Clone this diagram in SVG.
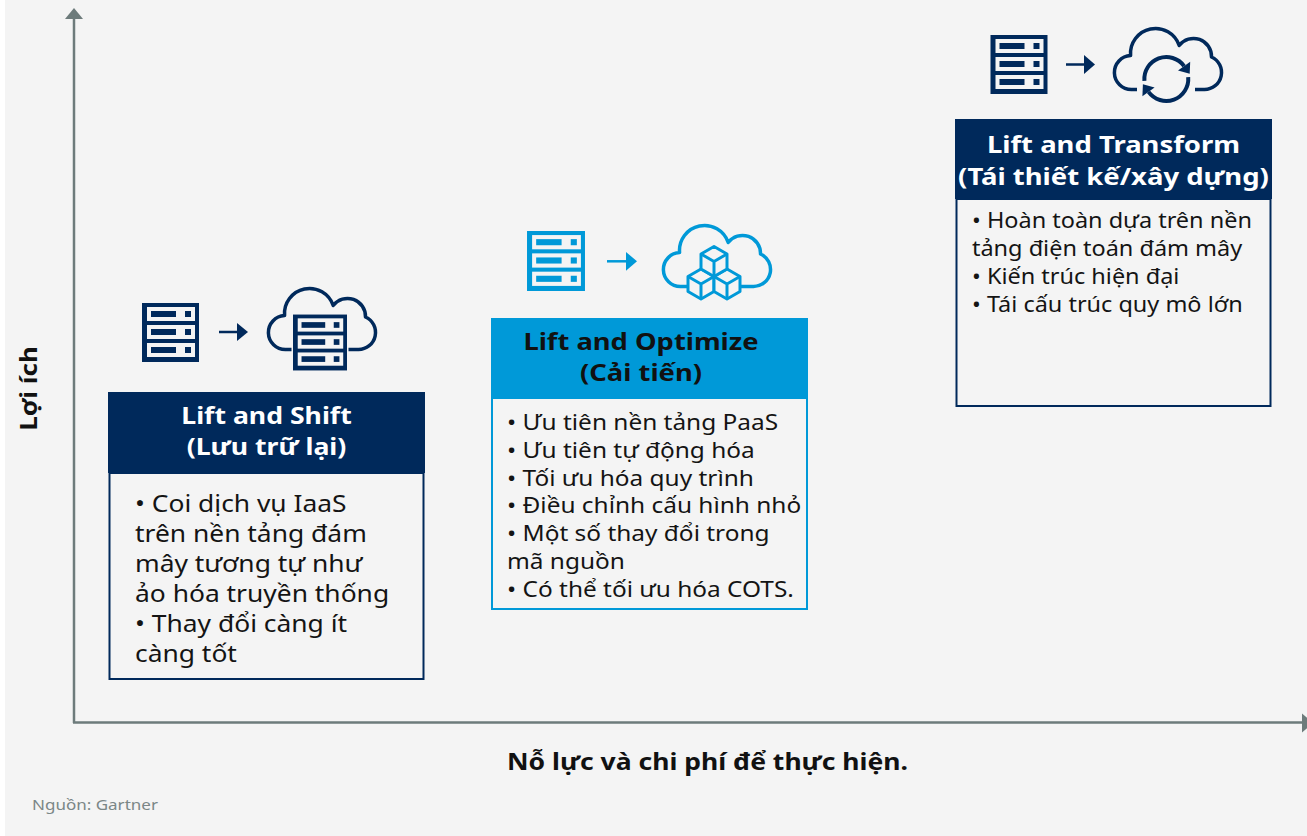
<svg xmlns="http://www.w3.org/2000/svg" xmlns:xlink="http://www.w3.org/1999/xlink" width="1307" height="836" viewBox="0 0 1307 836">
<style>
  text { font-family: "Noto Sans", "Open Sans", "DejaVu Sans", sans-serif; }
  .title { font-size: 24px; font-weight: 700; text-anchor: middle; }
  .b1 { font-size: 24px; fill: #141414; }
  .b2 { font-size: 22px; fill: #141414; }
  .axis { stroke: #6d7b7b; stroke-width: 2.5; fill: none; }
  .axhead { fill: #6d7b7b; }
  .cloud { fill: none; stroke-width: 3.5; stroke-linejoin: round; }
  .navy { color: #00295b; }
  .cyan { color: #0099d8; }
  .lbl { font-size: 24px; font-weight: 700; fill: #111; }
</style>
<defs>
  <symbol id="srv" viewBox="0 0 57 59" overflow="visible">
    <rect x="0" y="0" width="57" height="59" fill="currentColor"/>
    <rect x="5" y="4" width="48" height="14" fill="#f4f4f4"/>
    <rect x="5" y="22" width="48" height="14" fill="#f4f4f4"/>
    <rect x="5" y="40" width="48" height="14" fill="#f4f4f4"/>
    <rect x="9" y="8" width="25" height="6" fill="currentColor"/>
    <rect x="43" y="8" width="6" height="6" fill="currentColor"/>
    <rect x="9" y="26" width="25" height="6" fill="currentColor"/>
    <rect x="43" y="26" width="6" height="6" fill="currentColor"/>
    <rect x="9" y="44" width="25" height="6" fill="currentColor"/>
    <rect x="43" y="44" width="6" height="6" fill="currentColor"/>
  </symbol>
  <path id="cloudShape" d="M 20 63 A 17 17 0 0 1 19.08 29.02 A 25 25 0 0 1 67.7 19 A 18 18 0 0 1 100 30.5 A 17 17 0 0 1 93 63 Z"/>
</defs>

<rect x="0" y="0" width="1307" height="836" fill="#f4f4f4"/>
<rect x="0" y="0" width="5" height="836" fill="#ffffff"/>

<g id="connectors">
  <line class="axis" x1="74" y1="18" x2="74" y2="723"/>
  <polygon class="axhead" points="65,19 83,19 74,8"/>
  <line class="axis" x1="73" y1="722.5" x2="1303" y2="722.5"/>
  <polygon class="axhead" points="1302,713.5 1302,732.5 1313,723"/>
</g>

<g id="axis-labels">
  <text class="lbl" transform="translate(37,388.5) rotate(-90) scale(1.08,1)" text-anchor="middle">Lợi ích</text>
  <g transform="matrix(1.105 0 0 1 -74.29 0)">
    <text class="lbl" x="707.5" y="770" text-anchor="middle">Nỗ lực và chi phí để thực hiện.</text>
  </g>
  <g transform="matrix(1.135 0 0 1 -4.32 0)">
    <text x="32" y="810" font-size="15" fill="#7b8787">Nguồn: Gartner</text>
  </g>
</g>

<g id="icon-shift" class="navy">
  <use href="#srv" x="142" y="303" width="57" height="59"/>
  <line x1="219" y1="332" x2="239" y2="332" stroke="currentColor" stroke-width="2.5"/>
  <polygon points="237,323 248,332 237,341" fill="currentColor"/>
  <use href="#cloudShape" class="cloud" stroke="currentColor" transform="translate(265.5,286.5)"/>
  <rect x="291.5" y="312.5" width="57" height="60" fill="#f4f4f4"/>
  <use href="#srv" x="293" y="314" width="54" height="57"/>
</g>

<g id="icon-optimize" class="cyan">
  <use href="#srv" x="527" y="231" width="58" height="60"/>
  <line x1="607" y1="261.3" x2="628" y2="261.3" stroke="currentColor" stroke-width="2.5"/>
  <polygon points="626,252 637,261.3 626,270.7" fill="currentColor"/>
  <use href="#cloudShape" class="cloud" stroke="currentColor" transform="translate(660.5,223.5)"/>
  <g fill="#f4f4f4" stroke="currentColor" stroke-width="3" stroke-linejoin="round">
    <polygon points="701,269 714,276.5 714,291.5 701,299 688,291.5 688,276.5"/>
    <path d="M688,276.5 L701,284 L714,276.5 M701,284 L701,299" fill="none"/>
    <polygon points="727,269 740,276.5 740,291.5 727,299 714,291.5 714,276.5"/>
    <path d="M714,276.5 L727,284 L740,276.5 M727,284 L727,299" fill="none"/>
    <polygon points="714,246.5 727,254 727,269 714,276.5 701,269 701,254"/>
    <path d="M701,254 L714,261.5 L727,254 M714,261.5 L714,276.5" fill="none"/>
  </g>
</g>

<g id="icon-transform" class="navy">
  <use href="#srv" x="990" y="35" width="58" height="59"/>
  <line x1="1066" y1="64.5" x2="1086" y2="64.5" stroke="currentColor" stroke-width="2.5"/>
  <polygon points="1084,55 1095,64.5 1084,74" fill="currentColor"/>
  <use href="#cloudShape" class="cloud" stroke="currentColor" transform="translate(1111.5,26.5)"/>
  <rect x="1137" y="86" width="58" height="9" fill="#f4f4f4"/>
  <path d="M 1144.4 80.9 A 22 22 0 0 1 1184.1 66.1" fill="none" stroke="currentColor" stroke-width="4"/>
  <polygon points="1190.2,61.7 1178,70.5 1189.7,73.8" fill="currentColor"/>
  <path d="M 1188.2 77.1 A 22 22 0 0 1 1148.5 91.9" fill="none" stroke="currentColor" stroke-width="4"/>
  <polygon points="1142.4,96.3 1154.6,87.5 1142.9,84.2" fill="currentColor"/>
</g>

<g id="node-shift">
  <rect x="109.5" y="473" width="314" height="206" fill="#f4f4f4" stroke="#00295b" stroke-width="2"/>
  <rect x="108" y="392" width="317" height="81" fill="#00295b"/>
  <g transform="matrix(1.11 0 0 1 -29.32 0)">
    <text class="title" x="266.5" y="424" fill="#ffffff">Lift and Shift</text>
    <text class="title" x="266.5" y="455" fill="#ffffff">(Lưu trữ lại)</text>
  </g>
  <g transform="matrix(1.10 0 0 1 -13.5 0)">
    <text class="b1" x="135" y="512">• Coi dịch vụ IaaS</text>
    <text class="b1" x="135" y="542">trên nền tảng đám</text>
    <text class="b1" x="135" y="572">mây tương tự như</text>
    <text class="b1" x="135" y="602">ảo hóa truyền thống</text>
    <text class="b1" x="135" y="632">• Thay đổi càng ít</text>
    <text class="b1" x="135" y="662">càng tốt</text>
  </g>
</g>

<g id="node-optimize">
  <rect x="492" y="398" width="315" height="211" fill="#f4f4f4" stroke="#0099d8" stroke-width="2"/>
  <rect x="491" y="318" width="317" height="80" fill="#0099d8"/>
  <g transform="matrix(1.14 0 0 1 -89.74 0)">
    <text class="title" x="641" y="350" fill="#111111">Lift and Optimize</text>
    <text class="title" x="641" y="381.5" fill="#111111">(Cải tiến)</text>
  </g>
  <g transform="matrix(1.11 0 0 1 -55.77 0)">
    <text class="b2" x="507" y="430">• Ưu tiên nền tảng PaaS</text>
    <text class="b2" x="507" y="457.8">• Ưu tiên tự động hóa</text>
    <text class="b2" x="507" y="485.6">• Tối ưu hóa quy trình</text>
    <text class="b2" x="507" y="513.4">• Điều chỉnh cấu hình nhỏ</text>
    <text class="b2" x="507" y="541.2">• Một số thay đổi trong</text>
    <text class="b2" x="507" y="569">mã nguồn</text>
    <text class="b2" x="507" y="596.8">• Có thể tối ưu hóa COTS.</text>
  </g>
</g>

<g id="node-transform">
  <rect x="956.5" y="199" width="314" height="207" fill="#f4f4f4" stroke="#00295b" stroke-width="2"/>
  <rect x="955" y="119" width="317" height="80" fill="#00295b"/>
  <g transform="matrix(1.145 0 0 1 -161.46 0)">
    <text class="title" x="1113.5" y="153" fill="#ffffff">Lift and Transform</text>
    <text class="title" x="1113.5" y="185" fill="#ffffff">(Tái thiết kế/xây dựng)</text>
  </g>
  <g transform="matrix(1.067 0 0 1 -65.12 0)">
    <text class="b2" x="972" y="228">• Hoàn toàn dựa trên nền</text>
    <text class="b2" x="972" y="256">tảng điện toán đám mây</text>
    <text class="b2" x="972" y="284">• Kiến trúc hiện đại</text>
    <text class="b2" x="972" y="312">• Tái cấu trúc quy mô lớn</text>
  </g>
</g>
</svg>
